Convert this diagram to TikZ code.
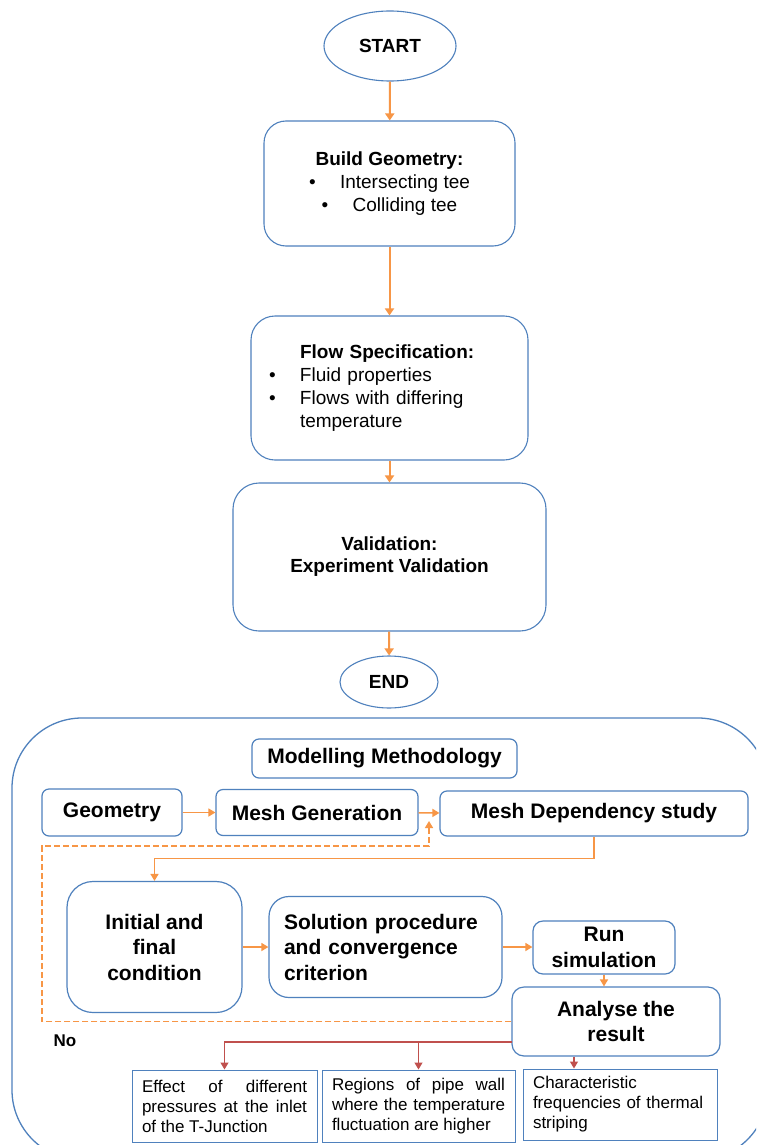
\documentclass[tikz,border=0pt]{standalone}
\usepackage{fontspec}
\setmainfont{Liberation Sans}
\usetikzlibrary{shapes.geometric,arrows.meta}
\definecolor{boxblue}{RGB}{79,129,189}
\definecolor{floworange}{RGB}{247,150,70}
\definecolor{outred}{RGB}{192,80,77}
\newcommand{\tbul}{\makebox[31pt][l]{\textbullet}}

\begin{document}
\begin{tikzpicture}[x=1pt,y=-1pt]
\tikzstyle{every node}+=[inner sep=0pt]
\tikzstyle{endcap}=[draw=boxblue,line width=1.1pt,ellipse,font=\bfseries\fontsize{19}{23}\selectfont]
\tikzstyle{stagebox}=[draw=boxblue,line width=1.1pt,align=center,font=\fontsize{19}{23}\selectfont]
\tikzstyle{stepbox}=[draw=boxblue,line width=1.2pt,align=center,font=\bfseries\fontsize{21}{25.5}\selectfont]
\tikzstyle{resultbox}=[draw=boxblue,line width=1pt,inner xsep=10pt,font=\fontsize{17}{20}\selectfont]
\tikzstyle{toparrow}=[floworange,line width=2pt,-{Triangle[length=7pt,width=9pt]}]
\tikzstyle{looparrow}=[floworange,line width=1.5pt,-{Triangle[length=7pt,width=8pt]}]
\tikzstyle{outarrow}=[outred,line width=1.2pt,-{Triangle[length=7pt,width=8pt]}]

\clip (0,0) rectangle (756,1145);
\fill[white] (0,0) rectangle (756,1145);
\draw[boxblue,line width=1.3pt,rounded corners=70pt] (12,718) rectangle (768,1160);

\node[endcap,minimum width=132pt,minimum height=70pt] (start) at (390,46) {START};
\node[stagebox,rounded corners=22pt,minimum width=251pt,minimum height=125pt] (build) at (389.5,183.5)
  {\textbf{Build Geometry:}\\ \tbul Intersecting tee\\ \tbul Colliding tee};
\node[stagebox,rounded corners=24pt,align=left,text width=241pt,inner xsep=18pt,minimum height=144pt] (flow) at (389.5,388)
  {\hspace*{31pt}\textbf{Flow Specification:}\\ \tbul Fluid properties\\ \tbul Flows with differing\\ \hspace*{31pt}temperature};
\node[stagebox,rounded corners=26pt,font=\bfseries\fontsize{19}{22}\selectfont,minimum width=313pt,minimum height=148pt] (valid) at (389.5,557)
  {Validation:\\ Experiment Validation};
\node[endcap,minimum width=98pt,minimum height=52pt] (finish) at (389,682) {END};

\draw[toparrow] (start) -- (build);
\draw[toparrow] (build) -- (flow);
\draw[toparrow] (flow) -- (valid);
\draw[toparrow] (valid) -- (finish);

\node[stepbox,rounded corners=7pt,minimum width=265pt,minimum height=39pt] (method) at (384.5,758.5) {Modelling Methodology};
\node[stepbox,rounded corners=7pt,minimum width=140pt,minimum height=47pt] (geom) at (112,812.5) {Geometry};
\node[stepbox,rounded corners=7pt,minimum width=202pt,minimum height=46pt] (meshgen) at (317,812.5) {Mesh Generation};
\node[stepbox,rounded corners=7pt,minimum width=308pt,minimum height=45pt] (meshdep) at (594,813.5) {Mesh Dependency study};
\node[stepbox,rounded corners=26pt,minimum width=175pt,minimum height=131pt] (initial) at (154.5,947) {Initial and\\ final\\ condition};
\node[stepbox,rounded corners=20pt,align=left,text width=203pt,inner xsep=15pt,minimum height=101pt] (solution) at (385.5,947)
  {Solution procedure\\ and convergence\\ criterion};
\node[stepbox,rounded corners=10pt,minimum width=142pt,minimum height=53pt] (run) at (604,947.5) {Run\\ simulation};
\node[stepbox,rounded corners=12pt,minimum width=208pt,minimum height=69pt] (analyse) at (616,1021.5) {Analyse the\\ result};
\node[font=\bfseries\fontsize{17}{20}\selectfont] (nolabel) at (65,1041) {No};

\node[resultbox,align=justify,text width=165pt,minimum height=72pt] (effect) at (224.5,1106)
  {Effect of different\linebreak pressures at the inlet\linebreak of the T-Junction};
\node[resultbox,align=justify,text width=173pt,minimum height=72pt] (regions) at (418.5,1106)
  {Regions of pipe wall\linebreak where the temperature\linebreak fluctuation are higher};
\node[resultbox,align=left,text width=174pt,minimum height=71pt] (freq) at (620,1104.5)
  {Characteristic\\ frequencies of thermal\\ striping};

\coordinate (noturn) at (42,846);
\coordinate (noend) at (429,821);
\coordinate (split) at (512,1042);

\draw[looparrow] (geom) -- (meshgen);
\draw[looparrow] (meshgen) -- (meshdep);
\draw[looparrow] (meshdep.south) -- ++(0,22) -| (initial.north);
\draw[looparrow] (initial.east) -- (solution.west);
\draw[looparrow] (solution.east) -- (solution.east -| run.west);
\draw[looparrow] (run.south) -- (run.south |- analyse.north);
\draw[looparrow,dash pattern=on 6pt off 3pt] (analyse.west) -| (noturn) -| (noend);

\draw[outarrow] (split) -| (effect.north);
\draw[outarrow] (regions.north |- split) -- (regions.north);
\draw[outarrow] ([xshift=-42pt]analyse.south) -- ([xshift=-42pt]analyse.south |- freq.north);
\end{tikzpicture}
\end{document}
